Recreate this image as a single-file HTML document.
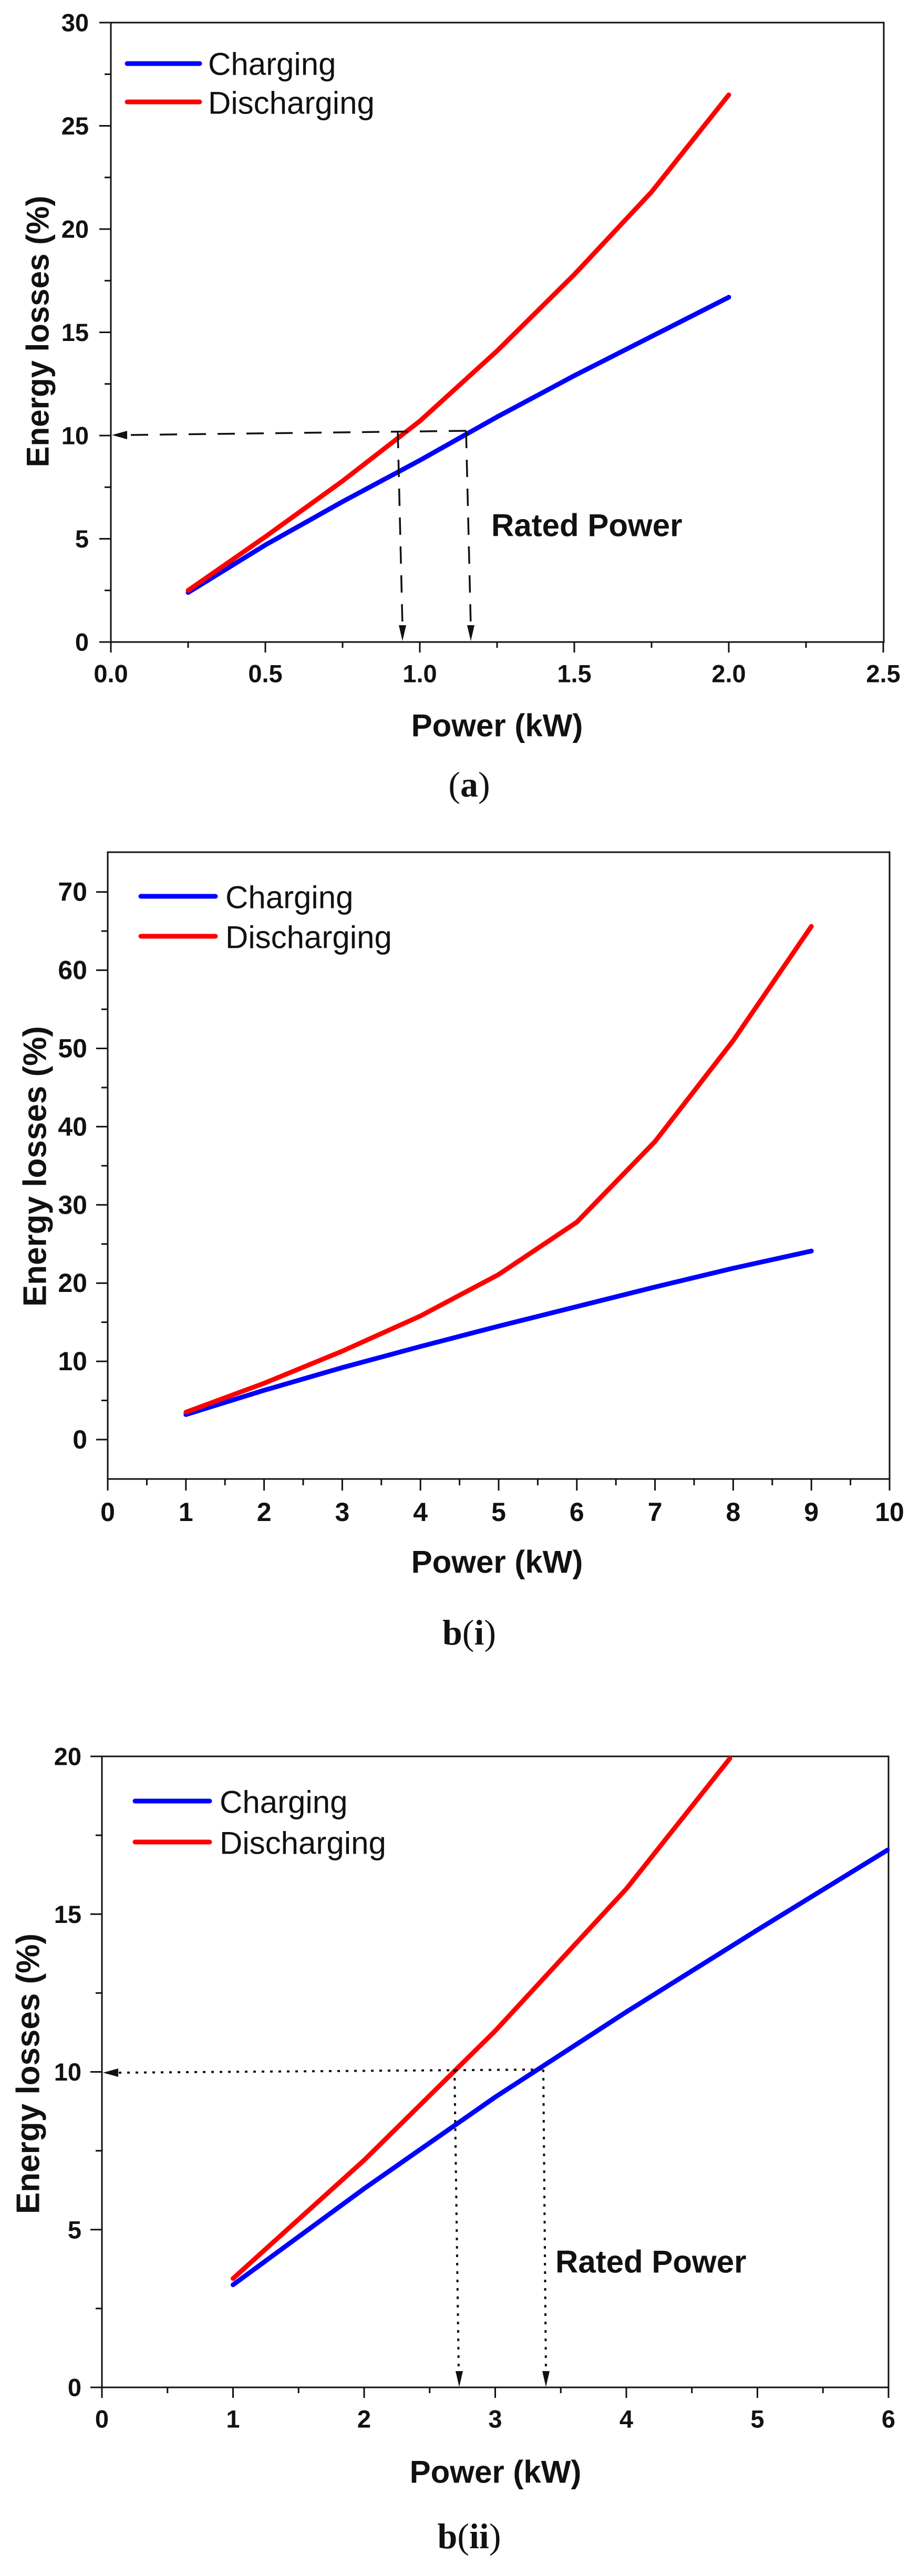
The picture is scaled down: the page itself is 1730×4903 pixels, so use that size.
<!DOCTYPE html>
<html><head><meta charset="utf-8"><style>
html,body{margin:0;padding:0;background:#fff;}
svg{display:block;}
text{font-family:"Liberation Sans",Arial,sans-serif;fill:#111;}
.tk{font-size:47px;font-weight:bold;}
.ti{font-size:60px;font-weight:bold;}
.lg{font-size:60px;}
.cap{font-family:"Liberation Serif",serif;font-size:68px;}
</style></head><body>
<svg width="1730" height="4903" viewBox="0 0 1730 4903" xmlns="http://www.w3.org/2000/svg">

<!-- ============ Panel a ============ -->
<g stroke="#111" stroke-width="3" fill="none">
<rect x="211" y="43" width="1471" height="1179"/>
<path d="M189,1222H211M189,1025.5H211M189,829H211M189,632.5H211M189,436H211M189,239.5H211M189,43H211"/>
<path d="M199,1123.75H211M199,927.25H211M199,730.75H211M199,534.25H211M199,337.75H211M199,141.25H211"/>
<path d="M211,1222V1242M505,1222V1242M799,1222V1242M1093,1222V1242M1387,1222V1242M1681,1222V1242"/>
<path d="M358,1222V1233M652,1222V1233M946,1222V1233M1240,1222V1233M1534,1222V1233"/>
</g>
<g class="tk" text-anchor="end" dominant-baseline="central">
<text x="169" y="1222">0</text><text x="169" y="1025.5">5</text><text x="169" y="829">10</text><text x="169" y="632.5">15</text><text x="169" y="436">20</text><text x="169" y="239.5">25</text><text x="169" y="43">30</text>
</g>
<g class="tk" text-anchor="middle" dominant-baseline="central">
<text x="211" y="1282">0.0</text><text x="505" y="1282">0.5</text><text x="799" y="1282">1.0</text><text x="1093" y="1282">1.5</text><text x="1387" y="1282">2.0</text><text x="1681" y="1282">2.5</text>
</g>
<text class="ti" x="946" y="1381" text-anchor="middle" dominant-baseline="central">Power (kW)</text>
<text class="ti" transform="translate(72,631) rotate(-90)" text-anchor="middle" dominant-baseline="central">Energy losses (%)</text>
<g fill="none" stroke-width="9" stroke-linejoin="round" stroke-linecap="round">
<polyline stroke="#0000ff" points="358,1127.7 505,1037.3 652,954.8 799,876.2 946,793.6 1093,715 1240,640.4 1387,565.7"/>
<polyline stroke="#ff0000" points="358,1123.8 505,1021.6 652,915.5 799,801.5 946,667.9 1093,522.5 1240,365.3 1387,180.5"/>
<line stroke="#0000ff" x1="242" y1="121" x2="380" y2="121"/>
<line stroke="#ff0000" x1="242" y1="194" x2="380" y2="194"/>
</g>
<text class="lg" x="396" y="122" dominant-baseline="central">Charging</text>
<text class="lg" x="396" y="196" dominant-baseline="central">Discharging</text>
<g stroke="#111" stroke-width="3.5" fill="none" stroke-dasharray="33,22">
<line x1="887" y1="820" x2="240" y2="828"/>
<line x1="757" y1="820" x2="766" y2="1192"/>
<line x1="887" y1="820" x2="896" y2="1192"/>
</g>
<g fill="#111">
<polygon points="213,828 242,820 242,836"/>
<polygon points="766,1220 759,1190 773,1190"/>
<polygon points="896,1220 889,1190 903,1190"/>
</g>
<text class="ti" x="935" y="1000" dominant-baseline="central">Rated Power</text>
<text class="cap" x="893" y="1516" text-anchor="middle">(<tspan font-weight="bold">a</tspan>)</text>

<!-- ============ Panel b(i) ============ -->
<g stroke="#111" stroke-width="3" fill="none">
<rect x="205" y="1622" width="1488" height="1193"/>
<path d="M183,2740H205M183,2591.1H205M183,2442.2H205M183,2293.3H205M183,2144.4H205M183,1995.5H205M183,1846.6H205M183,1697.7H205"/>
<path d="M193,2665.55H205M193,2516.65H205M193,2367.75H205M193,2218.85H205M193,2069.95H205M193,1921.05H205M193,1772.15H205"/>
<path d="M205,2815V2837M353.8,2815V2837M502.6,2815V2837M651.4,2815V2837M800.2,2815V2837M949,2815V2837M1097.8,2815V2837M1246.6,2815V2837M1395.4,2815V2837M1544.2,2815V2837M1693,2815V2837"/>
<path d="M279.4,2815V2827M428.2,2815V2827M577,2815V2827M725.8,2815V2827M874.6,2815V2827M1023.4,2815V2827M1172.2,2815V2827M1321,2815V2827M1469.8,2815V2827M1618.6,2815V2827"/>
</g>
<g class="tk" text-anchor="end" dominant-baseline="central" style="font-size:50px">
<text x="166" y="2740">0</text><text x="166" y="2591.1">10</text><text x="166" y="2442.2">20</text><text x="166" y="2293.3">30</text><text x="166" y="2144.4">40</text><text x="166" y="1995.5">50</text><text x="166" y="1846.6">60</text><text x="166" y="1697.7">70</text>
</g>
<g class="tk" text-anchor="middle" dominant-baseline="central" style="font-size:50px">
<text x="205" y="2878">0</text><text x="353.8" y="2878">1</text><text x="502.6" y="2878">2</text><text x="651.4" y="2878">3</text><text x="800.2" y="2878">4</text><text x="949" y="2878">5</text><text x="1097.8" y="2878">6</text><text x="1246.6" y="2878">7</text><text x="1395.4" y="2878">8</text><text x="1544.2" y="2878">9</text><text x="1693" y="2878">10</text>
</g>
<text class="ti" x="946" y="2973" text-anchor="middle" dominant-baseline="central">Power (kW)</text>
<text class="ti" transform="translate(67,2220) rotate(-90)" text-anchor="middle" dominant-baseline="central" style="font-size:62px">Energy losses (%)</text>
<g fill="none" stroke-width="9" stroke-linejoin="round" stroke-linecap="round">
<polyline stroke="#0000ff" points="353.8,2692.4 502.6,2646.2 651.4,2603 800.2,2562.8 949,2524.1 1097.8,2486.9 1246.6,2449.6 1395.4,2413.9 1544.2,2381.1"/>
<polyline stroke="#ff0000" points="353.8,2687.9 502.6,2632.8 651.4,2571.7 800.2,2504.7 949,2425.8 1097.8,2326.1 1246.6,2172.7 1395.4,1980.6 1544.2,1763.2"/>
<line stroke="#0000ff" x1="268" y1="1706" x2="410" y2="1706"/>
<line stroke="#ff0000" x1="268" y1="1782" x2="410" y2="1782"/>
</g>
<text class="lg" x="429" y="1708" dominant-baseline="central">Charging</text>
<text class="lg" x="429" y="1784" dominant-baseline="central">Discharging</text>
<text class="cap" x="893" y="3130" text-anchor="middle"><tspan font-weight="bold">b</tspan>(<tspan font-weight="bold">i</tspan>)</text>

<!-- ============ Panel b(ii) ============ -->
<g stroke="#111" stroke-width="3" fill="none">
<rect x="194" y="3343" width="1497" height="1201"/>
<path d="M172,4544H194M172,4243.75H194M172,3943.5H194M172,3643.25H194M172,3343H194"/>
<path d="M182,4393.9H194M182,4093.6H194M182,3793.4H194M182,3493.1H194"/>
<path d="M194,4544V4564M443.5,4544V4564M693,4544V4564M942.5,4544V4564M1192,4544V4564M1441.5,4544V4564M1691,4544V4564"/>
<path d="M318.75,4544V4555M568.25,4544V4555M817.75,4544V4555M1067.25,4544V4555M1316.75,4544V4555M1566.25,4544V4555"/>
</g>
<g class="tk" text-anchor="end" dominant-baseline="central">
<text x="155" y="4544">0</text><text x="155" y="4243.75">5</text><text x="155" y="3943.5">10</text><text x="155" y="3643.25">15</text><text x="155" y="3343">20</text>
</g>
<g class="tk" text-anchor="middle" dominant-baseline="central">
<text x="194" y="4604">0</text><text x="443.5" y="4604">1</text><text x="693" y="4604">2</text><text x="942.5" y="4604">3</text><text x="1192" y="4604">4</text><text x="1441.5" y="4604">5</text><text x="1691" y="4604">6</text>
</g>
<text class="ti" x="943" y="4705" text-anchor="middle" dominant-baseline="central">Power (kW)</text>
<text class="ti" transform="translate(54,3947) rotate(-90)" text-anchor="middle" dominant-baseline="central" style="font-size:62px">Energy losses (%)</text>
<g fill="none" stroke-width="9" stroke-linejoin="round" stroke-linecap="round">
<polyline stroke="#0000ff" points="443.5,4348.8 693,4165.7 942.5,3991.5 1192,3829.4 1441.5,3673.3 1689,3521.3"/>
<polyline stroke="#ff0000" points="443.5,4336.8 693,4111.6 942.5,3865.4 1192,3595.2 1389,3347"/>
<line stroke="#0000ff" x1="257" y1="3428" x2="399" y2="3428"/>
<line stroke="#ff0000" x1="257" y1="3506" x2="399" y2="3506"/>
</g>
<text class="lg" x="418" y="3430" dominant-baseline="central">Charging</text>
<text class="lg" x="418" y="3508" dominant-baseline="central">Discharging</text>
<g stroke="#111" stroke-width="4" fill="none" stroke-dasharray="5,11">
<line x1="1031" y1="3939" x2="225" y2="3945"/>
<line x1="865" y1="3939" x2="873" y2="4514"/>
<line x1="1034" y1="3939" x2="1039" y2="4514"/>
</g>
<g fill="#111">
<polygon points="196,3945 225,3937 225,3953"/>
<polygon points="874,4543 867,4513 881,4513"/>
<polygon points="1039,4543 1032,4513 1046,4513"/>
</g>
<text class="ti" x="1057" y="4305" dominant-baseline="central">Rated Power</text>
<text class="cap" x="893" y="4850" text-anchor="middle"><tspan font-weight="bold">b</tspan>(<tspan font-weight="bold">ii</tspan>)</text>
</svg>
</body></html>
